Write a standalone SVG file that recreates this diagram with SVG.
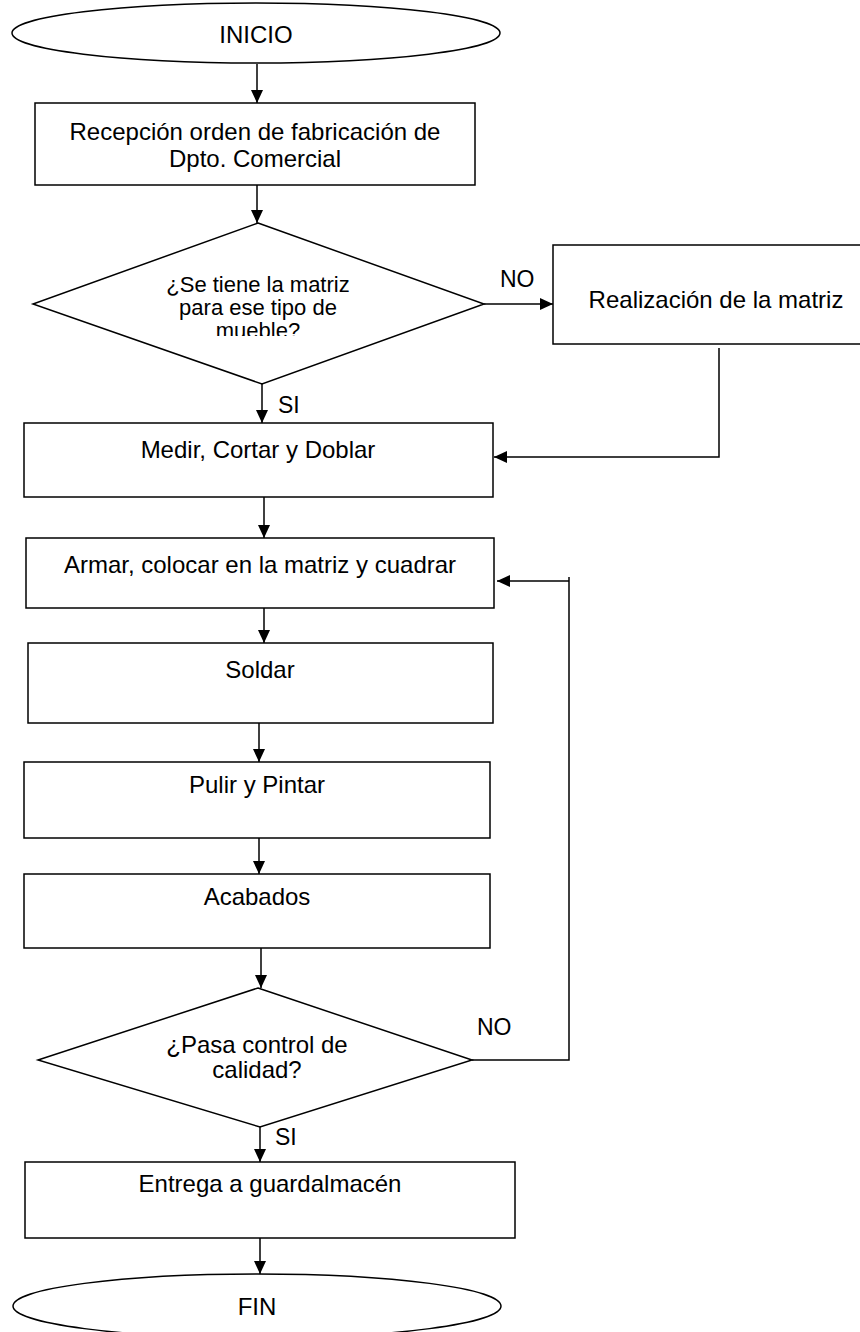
<svg xmlns="http://www.w3.org/2000/svg" width="860" height="1332" viewBox="0 0 860 1332">
<style>
.s{fill:#fff;stroke:#000;stroke-width:1.5}
.t{font-family:"Liberation Sans",Arial,sans-serif;font-size:24px;fill:#000;text-anchor:middle}
.d1{font-size:22px}
.l{font-family:"Liberation Sans",Arial,sans-serif;font-size:23px;fill:#000}
.c{fill:none;stroke:#000;stroke-width:1.5;marker-end:url(#a)}
</style>
<defs>
<marker id="a" viewBox="0 0 13 12" refX="13" refY="6" markerWidth="13" markerHeight="12" markerUnits="userSpaceOnUse" orient="auto"><path d="M0,0 L13,6 L0,12 z" fill="#000"/></marker>
<clipPath id="cp1"><rect x="0" y="200" width="860" height="136"/></clipPath>
</defs>
<rect width="860" height="1332" fill="#fff"/>
<g id="connectors">
<path class="c" d="M257,64 V103"/>
<path class="c" d="M257,185 V223"/>
<path class="c" d="M484,304 H553"/>
<path class="c" d="M262,384 V423"/>
<path class="c" d="M719,348 V457 H494"/>
<path class="c" d="M264,497 V538"/>
<path class="c" d="M264,608 V643"/>
<path class="c" d="M259,723 V762"/>
<path class="c" d="M259,838 V874"/>
<path class="c" d="M261,948 V988"/>
<path fill="none" stroke="#000" stroke-width="1.5" d="M472,1060 H569 V577"/>
<path class="c" d="M569,581 H497"/>
<path class="c" d="M260,1127 V1162"/>
<path class="c" d="M260,1238 V1274"/>
<text class="l" x="500" y="287">NO</text>
<text class="l" x="278" y="413">SI</text>
<text class="l" x="477" y="1035">NO</text>
<text class="l" x="275" y="1145">SI</text>
</g>
<g id="inicio"><ellipse class="s" cx="256" cy="33" rx="244" ry="30"/><text class="t" x="256" y="43">INICIO</text></g>
<g id="recepcion"><rect class="s" x="35" y="103" width="440" height="82"/><text class="t" x="255" y="140">Recepción orden de fabricación de</text><text class="t" x="255" y="167">Dpto. Comercial</text></g>
<g id="decision1"><polygon class="s" points="258,223 484,304 262,384 33,304"/><g clip-path="url(#cp1)"><text class="t d1" x="258" y="292">¿Se tiene la matriz</text><text class="t d1" x="258" y="315">para ese tipo de</text><text class="t d1" x="258" y="338">mueble?</text></g></g>
<g id="realizacion"><rect class="s" x="553" y="245" width="330" height="99"/><text class="t" x="716" y="308">Realización de la matriz</text></g>
<g id="medir"><rect class="s" x="24" y="423" width="469" height="74"/><text class="t" x="258" y="458">Medir, Cortar y Doblar</text></g>
<g id="armar"><rect class="s" x="26" y="538" width="468" height="70"/><text class="t" x="260" y="573">Armar, colocar en la matriz y cuadrar</text></g>
<g id="soldar"><rect class="s" x="28" y="643" width="465" height="80"/><text class="t" x="260" y="678">Soldar</text></g>
<g id="pulir"><rect class="s" x="24" y="762" width="466" height="76"/><text class="t" x="257" y="793">Pulir y Pintar</text></g>
<g id="acabados"><rect class="s" x="24" y="874" width="466" height="74"/><text class="t" x="257" y="905">Acabados</text></g>
<g id="decision2"><polygon class="s" points="258,988 472,1060 260,1127 38,1060"/><text class="t" x="257" y="1053">¿Pasa control de</text><text class="t" x="257" y="1078">calidad?</text></g>
<g id="entrega"><rect class="s" x="25" y="1162" width="490" height="76"/><text class="t" x="270" y="1192">Entrega a guardalmacén</text></g>
<g id="fin"><ellipse class="s" cx="257" cy="1306" rx="244" ry="32"/><text class="t" x="257" y="1315">FIN</text></g>
</svg>
